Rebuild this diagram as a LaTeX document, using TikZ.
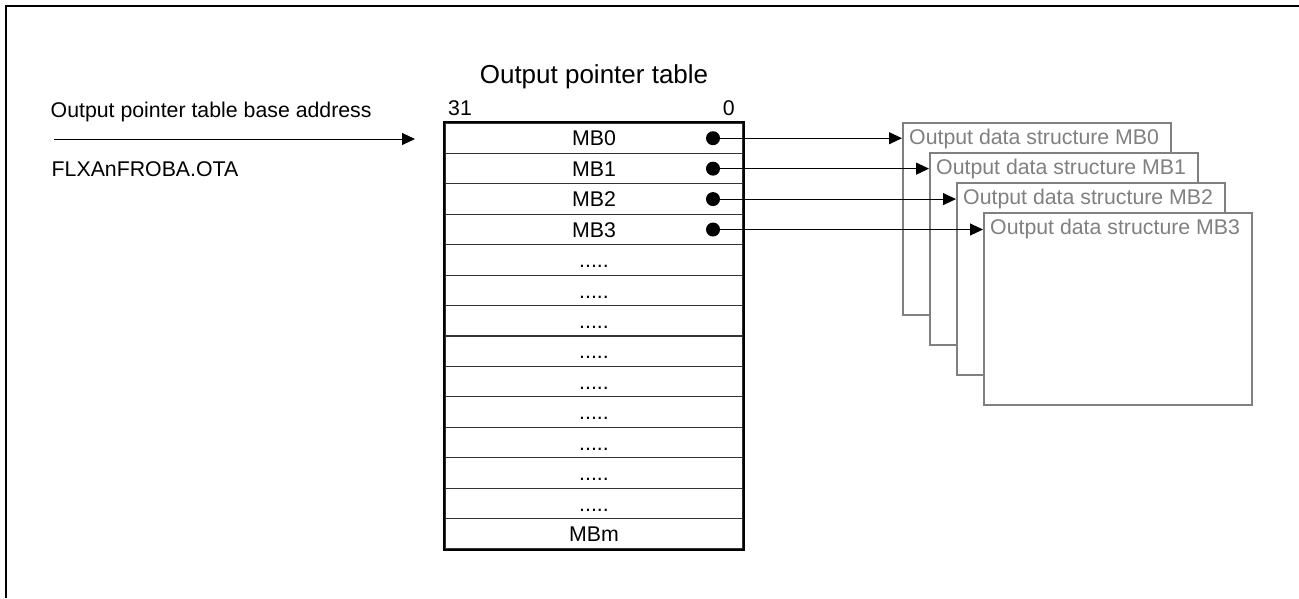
\documentclass[tikz,border=0pt]{standalone}
\usepackage{fontspec}
\setmainfont{Liberation Sans}
\usetikzlibrary{arrows.meta,calc}
\definecolor{boxgray}{HTML}{808080}
\newcommand{\fdots}{.....}
\begin{document}
\begin{tikzpicture}[x=1pt,y=-1pt,
  txt/.style={inner sep=0pt,font=\fontsize{21.3}{25}\selectfont},
  rowbox/.style={draw=black!80,line width=1.2pt,minimum width=298pt,minimum height=30.43pt,inner sep=0pt,text height=15.5pt,text depth=0pt,font=\fontsize{21.3}{25}\selectfont},
  dot/.style={circle,fill=black,inner sep=0pt,minimum size=14pt},
  dsbox/.style={draw=boxgray,fill=white,line width=2pt,minimum width=268pt,minimum height=192pt,anchor=north west,inner sep=0pt},
  dslabel/.style={txt,text=boxgray,anchor=base west},
  ptr/.style={line width=1pt,-{Triangle[length=13pt,width=12pt]}}
]
\useasboundingbox (0,0) rectangle (1299,598);
% partial frame
\draw[line width=2.5pt] (1299,6) -- (6,6) -- (6,598);

% left labels and base arrow
\node[txt,anchor=base west] (basetxt) at (50.5,117.5) {Output pointer table base address};
\node[txt,anchor=base west] (ota) at (51.5,176.7) {FLXAnFROBA.OTA};
\coordinate (bs) at (54,139);
\coordinate (be) at (415,139);
\draw[ptr] (bs) -- (be);

% title and bit labels
\node[txt,font=\fontsize{26}{30}\selectfont,anchor=base] (title) at (594,83.3) {Output pointer table};
\node[txt,anchor=base west] (bit31) at (448,115) {31};
\node[txt,anchor=base east] (bit0) at (735,115) {0};

% table rows
\foreach \lab [count=\i from 0] in {MB0,MB1,MB2,MB3,\fdots,\fdots,\fdots,\fdots,\fdots,\fdots,\fdots,\fdots,\fdots,MBm}
  \node[rowbox] (r\i) at (594,{123+30.43*(\i+0.5)}) {\lab};
\draw[line width=2pt] (r0.north west) rectangle (r13.south east);

% bullets
\foreach \i in {0,...,3}
  \node[dot] (d\i) at (713,{123+30.43*(\i+0.5)}) {};

% output data structure boxes
\foreach \i in {0,...,3}{
  \node[dsbox] (s\i) at ({902+27*\i},{122+30*\i}) {};
  \node[dslabel] (l\i) at ($(s\i.north west)+(7,22)$) {Output data structure MB\i};
}

% pointer arrows
\foreach \i in {0,...,3}
  \draw[ptr] (d\i.center) -- (d\i.center -| s\i.west);
\end{tikzpicture}
\end{document}
